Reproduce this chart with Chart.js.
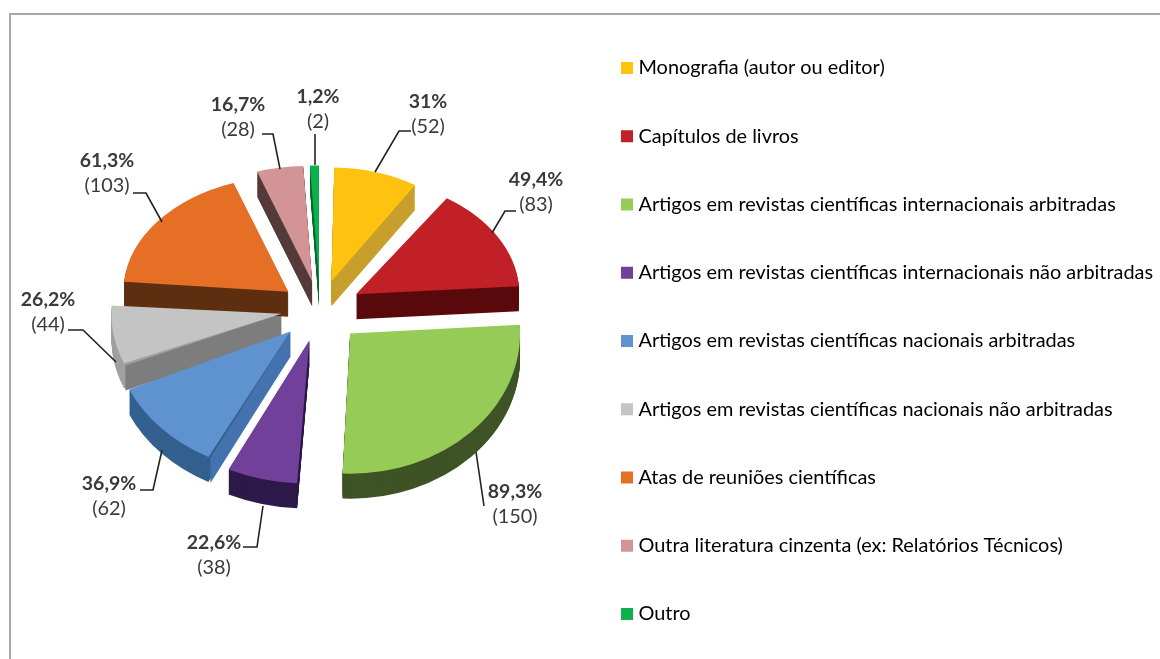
<!DOCTYPE html>
<html><head><meta charset="utf-8">
<script src="https://cdn.jsdelivr.net/npm/chart.js@4"></script>
<style>html,body{margin:0;padding:0;background:#fff}canvas{display:block}</style>
</head><body>
<canvas id="c" width="1160" height="659"></canvas>
<script>
const categories = ["Monografia (autor ou editor)","Capítulos de livros","Artigos em revistas científicas internacionais arbitradas","Artigos em revistas científicas internacionais não arbitradas","Artigos em revistas científicas nacionais arbitradas","Artigos em revistas científicas nacionais não arbitradas","Atas de reuniões científicas","Outra literatura cinzenta (ex: Relatórios Técnicos)","Outro"];
const counts = [52,83,150,38,62,44,103,28,2];
const percents = ["31%","49,4%","89,3%","22,6%","36,9%","26,2%","61,3%","16,7%","1,2%"];
const topColors = ["#FFC20E","#C02026","#97CB57","#71409A","#5F93CF","#C4C4C4","#E57025","#D29494","#0DB14B"];
const wallColors = ["#C89E2C","#5A0A0C","#3E5426","#2E1A4A","#4472AE","#7D7D7D","#5E2F10","#553A3A","#0A6B30"];
const rimColors = ["#C89E2C","#5A0A0C","#3E5426","#2E1A4A","#33608F","#A0A0A0","#5E2F10","#553A3A","#0A6B30"];
// perspective look: per-slice horizontal / vertical projection and explosion
const scaleX = [0.95,0.99,1.03,1.13,1.07,1.03,1.00,1.10,2.40];
const scaleY = [0.69,0.70,0.85,0.87,0.86,0.79,0.70,0.70,0.70];
const explode = [42,42,41,37,38,38,40,40,40];
const pieCentre = {x:320,y:309}, pieRadius = 165, depth = 25;
// label anchors and leader paths
const labelAt = [[428,102],[536,180],[515,492],[214,543],[109,484],[48,300],[107,161],[238,105],[318,97]];
const leaders = [
 [[375,172],[399,131],[411,131]],
 [[492,233],[505,211],[516,211]],
 [[476,452],[484,506]],
 [[263,506],[257,547],[243,547]],
 [[162,450],[153,490],[140,490]],
 [[116,362],[83,330],[68,330]],
 [[162,222],[146,193],[133,193]],
 [[280,169],[273,134],[262,134]],
 [[315,165],[315,134]]
];
const TEXT = "#3a3a3a", FONT = "Lato", FS = 19.9, ROW = 68.25;

const pie3d = {
  id:'pie3d',
  beforeDatasetDraw(chart, args){
    const ctx = chart.ctx, arcs = args.meta.data;
    const place = (arc,i,dy) => {
      ctx.translate(pieCentre.x, pieCentre.y+dy);
      ctx.scale(scaleX[i], scaleY[i]);
      ctx.translate(-arc.x, -arc.y);
    };
    const paint = (arc,i,dy,color) => {
      const saved = arc.options;
      if(color) arc.options = Object.assign({}, saved, {backgroundColor:color});
      ctx.save();
      place(arc,i,dy);
      arc.draw(ctx);
      if(arc.circumference < 0.05){
        // very thin arcs: fill the element's own wedge explicitly
        const mid = (arc.startAngle+arc.endAngle)/2, d = explode[i];
        const ox = arc.x+Math.cos(mid)*d, oy = arc.y+Math.sin(mid)*d;
        ctx.fillStyle = arc.options.backgroundColor;
        ctx.beginPath(); ctx.moveTo(ox,oy);
        ctx.arc(ox,oy,pieRadius,arc.startAngle,arc.endAngle);
        ctx.closePath(); ctx.fill();
      }
      ctx.restore();
      arc.options = saved;
    };
    const sideWall = (arc,i) => {
      const mid = (arc.startAngle+arc.endAngle)/2, d = explode[i];
      const ax = Math.cos(mid)*d, ay = Math.sin(mid)*d;
      const bx = ax+Math.cos(arc.startAngle)*pieRadius, by = ay+Math.sin(arc.startAngle)*pieRadius;
      const X = v => pieCentre.x+scaleX[i]*v, Y = (v,dy) => pieCentre.y+dy+scaleY[i]*v;
      ctx.fillStyle = wallColors[i];
      ctx.beginPath();
      ctx.moveTo(X(ax),Y(ay,0)); ctx.lineTo(X(bx),Y(by,0));
      ctx.lineTo(X(bx),Y(by,depth)); ctx.lineTo(X(ax),Y(ay,depth));
      ctx.closePath(); ctx.fill();
    };
    arcs.forEach((arc,i)=>{
      // ArcElement grows small arcs by offset*(1-sin(circumference)); keep all radii equal
      arc.outerRadius = pieRadius - explode[i]*(1-Math.sin(Math.min(Math.PI,arc.circumference)));
    });
    arcs.forEach((arc,i)=>{
      for(let k=depth;k>=1;k--) paint(arc,i,k,rimColors[i]);
      if(rimColors[i]!==wallColors[i]) sideWall(arc,i);
    });
    arcs.forEach((arc,i)=>paint(arc,i,0,null));
    return false;
  }
};
const decor = {
  id:'decor',
  beforeDraw(chart){
    const ctx = chart.ctx, lg = chart.legend;
    ctx.save();
    ctx.strokeStyle="#A8A8A8"; ctx.lineWidth=2;
    ctx.beginPath(); ctx.moveTo(10,659); ctx.lineTo(10,14); ctx.lineTo(1160,14); ctx.stroke();
    ctx.restore();
    const p = ROW-FS;
    lg.left = 625.5-p; lg.right = chart.width; lg.top = 68-FS/2-p; lg.bottom = chart.height+200;
  },
  afterDraw(chart){
    const ctx = chart.ctx;
    ctx.save();
    ctx.strokeStyle="#222"; ctx.lineWidth=1.6; ctx.lineJoin='miter';
    leaders.forEach(l=>{ctx.beginPath();l.forEach((p,j)=>j?ctx.lineTo(p[0],p[1]):ctx.moveTo(p[0],p[1]));ctx.stroke();});
    ctx.textAlign='center'; ctx.textBaseline='middle'; ctx.fillStyle=TEXT;
    labelAt.forEach((p,i)=>{
      ctx.font=`bold 19.5px ${FONT}`; ctx.fillText(percents[i],p[0],p[1]);
      ctx.font=`${FS}px ${FONT}`; ctx.fillText(`(${counts[i]})`,p[0],p[1]+25);
    });
    ctx.restore();
  }
};
new Chart(document.getElementById('c'),{
  type:'pie',
  data:{labels:categories,datasets:[{data:counts,backgroundColor:topColors,borderWidth:0,offset:explode.map(v=>v*4),clip:false,radius:pieRadius}]},
  options:{
    responsive:false,animation:false,radius:pieRadius,
    plugins:{
      tooltip:{enabled:false},
      legend:{position:'right',align:'start',labels:{
        font:{family:FONT,size:FS},color:TEXT,padding:ROW-FS,boxWidth:3,boxHeight:3,
        generateLabels(chart){return categories.map((t,i)=>({text:t,fillStyle:topColors[i],strokeStyle:topColors[i],lineWidth:9,index:i,hidden:false}));}
      }}
    }
  },
  plugins:[pie3d,decor]
});
</script>
</body></html>
